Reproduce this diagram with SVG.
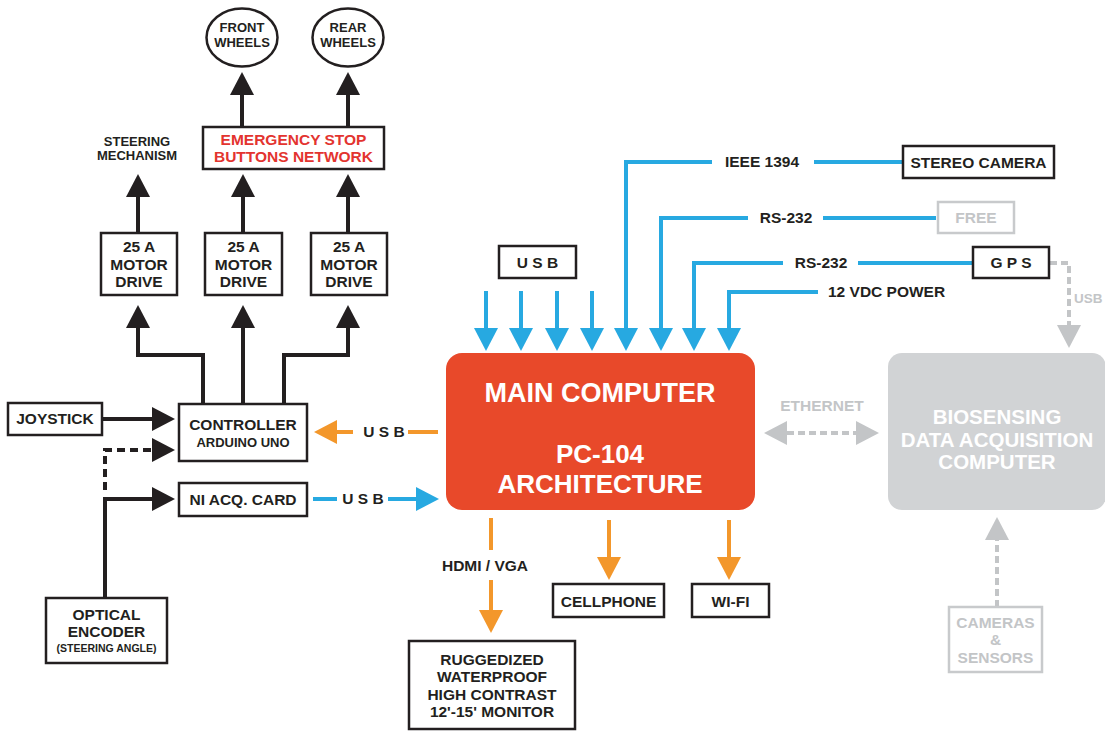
<svg xmlns="http://www.w3.org/2000/svg" width="1105" height="731" viewBox="0 0 1105 731">
<style>
text{font-family:"Liberation Sans",Arial,Helvetica,sans-serif;font-weight:bold;text-anchor:middle;fill:#231f20;font-size:15.5px}
.box{fill:#fff;stroke:#231f20;stroke-width:2.5}
.gbox{fill:#fff;stroke:#c8cacc;stroke-width:2.5}
.gt{fill:#c3c5c7}
.wt{fill:#fff}
.red{fill:#e3342f}
.sm{font-size:13px}
.xs{font-size:10.5px}
.c{fill:none;stroke-width:4}
.k{stroke:#231f20;marker-end:url(#ak)}
.b{stroke:#27a9e1;marker-end:url(#ab)}
.o{stroke:#f3972b;marker-end:url(#ao)}
.g{stroke:#c3c5c7;marker-end:url(#ag);stroke-dasharray:7 4}
</style>
<defs>
<marker id="ak" markerUnits="userSpaceOnUse" viewBox="0 -12 23 24" markerWidth="23" markerHeight="24" refX="0" refY="0" orient="auto"><path d="M0,-12L23,0L0,12z" fill="#231f20"/></marker>
<marker id="ab" markerUnits="userSpaceOnUse" viewBox="0 -12 23 24" markerWidth="23" markerHeight="24" refX="0" refY="0" orient="auto"><path d="M0,-12L23,0L0,12z" fill="#27a9e1"/></marker>
<marker id="ao" markerUnits="userSpaceOnUse" viewBox="0 -12 23 24" markerWidth="23" markerHeight="24" refX="0" refY="0" orient="auto"><path d="M0,-12L23,0L0,12z" fill="#f3972b"/></marker>
<marker id="ag" markerUnits="userSpaceOnUse" viewBox="0 -12 23 24" markerWidth="23" markerHeight="24" refX="0" refY="0" orient="auto-start-reverse"><path d="M0,-12L23,0L0,12z" fill="#c3c5c7"/></marker>
</defs>

<g id="connectors">
<path class="c k" d="M242,127V95"/>
<path class="c k" d="M348,127V95"/>
<path class="c k" d="M138,233V197"/>
<path class="c k" d="M243,233V197"/>
<path class="c k" d="M348,233V197"/>
<path class="c k" d="M203,404V355H138V328"/>
<path class="c k" d="M243,404V328"/>
<path class="c k" d="M284,404V355H348V328"/>
<path class="c k" d="M102,419H152"/>
<path class="c k" d="M105,490V450H152" stroke-dasharray="8 5"/>
<path class="c k" d="M105,598V499H152"/>
<path class="c b" d="M486,291V328"/>
<path class="c b" d="M521,291V328"/>
<path class="c b" d="M557,291V328"/>
<path class="c b" d="M592,291V328"/>
<path class="c b" d="M903,162H814M712,162H626V328"/>
<path class="c b" d="M936,218H823M748,218H661V328"/>
<path class="c b" d="M972,263H858M783,263H694V328"/>
<path class="c b" d="M818,292H729V328"/>
<path class="c b" d="M313,499H337M388,499H416"/>
<path class="c o" d="M438,432H408M353,432H337"/>
<path class="c o" d="M491,518V550M491,580V610"/>
<path class="c o" d="M609,520V557"/>
<path class="c o" d="M729,520V557"/>
<path class="c g" d="M1050,263H1069V325"/>
<path class="c g" d="M787,433H856" style="marker-start:url(#ag)"/>
<path class="c g" d="M997,607V540"/>
<text x="762" y="167">IEEE 1394</text>
<text x="786" y="223">RS-232</text>
<text x="821" y="268">RS-232</text>
<text x="828" y="297" style="text-anchor:start">12 VDC POWER</text>
<text x="384" y="437">U S B</text>
<text x="363" y="504">U S B</text>
<text x="485" y="571">HDMI / VGA</text>
<text x="822" y="411" class="gt">ETHERNET</text>
<text x="1074" y="303" class="gt" style="text-anchor:start;font-size:13.5px">USB</text>
</g>

<g id="front-wheels"><ellipse cx="242" cy="37.5" rx="35.5" ry="29" class="box"/><text x="242" y="32" class="sm">FRONT</text><text x="242" y="47" class="sm">WHEELS</text></g>
<g id="rear-wheels"><ellipse cx="348" cy="37.5" rx="35.5" ry="29" class="box"/><text x="348" y="32" class="sm">REAR</text><text x="348" y="47" class="sm">WHEELS</text></g>
<g id="emergency-stop"><rect x="203" y="127" width="181" height="42" class="box"/><text x="293.5" y="145" class="red">EMERGENCY STOP</text><text x="293.5" y="162" class="red">BUTTONS NETWORK</text></g>
<g id="steering"><text x="137" y="146" class="sm">STEERING</text><text x="137" y="160" class="sm">MECHANISM</text></g>
<g id="motor1"><rect x="101" y="233" width="76" height="62" class="box"/><text x="139" y="252">25 A</text><text x="139" y="270">MOTOR</text><text x="139" y="287">DRIVE</text></g>
<g id="motor2"><rect x="205" y="233" width="77" height="62" class="box"/><text x="243.5" y="252">25 A</text><text x="243.5" y="270">MOTOR</text><text x="243.5" y="287">DRIVE</text></g>
<g id="motor3"><rect x="311" y="233" width="76" height="62" class="box"/><text x="349" y="252">25 A</text><text x="349" y="270">MOTOR</text><text x="349" y="287">DRIVE</text></g>
<g id="joystick"><rect x="8" y="403" width="94" height="32" class="box"/><text x="55" y="424">JOYSTICK</text></g>
<g id="controller"><rect x="179" y="404" width="128" height="57" class="box"/><text x="243" y="430">CONTROLLER</text><text x="243" y="447" class="sm">ARDUINO UNO</text></g>
<g id="ni-card"><rect x="179" y="483" width="128" height="33" class="box"/><text x="243" y="505">NI ACQ. CARD</text></g>
<g id="optical-encoder"><rect x="46" y="598" width="121" height="65" class="box"/><text x="106.5" y="620">OPTICAL</text><text x="106.5" y="637">ENCODER</text><text x="106.5" y="652" class="xs">(STEERING ANGLE)</text></g>
<g id="usb"><rect x="499" y="246" width="77" height="32" class="box"/><text x="537.5" y="268">U S B</text></g>
<g id="stereo-camera"><rect x="903" y="146" width="151" height="32" class="box"/><text x="978.5" y="168">STEREO CAMERA</text></g>
<g id="free"><rect x="938" y="202" width="76" height="31" class="gbox"/><text x="976" y="223" class="gt">FREE</text></g>
<g id="gps"><rect x="973" y="247" width="76" height="31" class="box"/><text x="1011" y="268">G P S</text></g>
<g id="main-computer"><rect x="446" y="353" width="309" height="157" rx="16" fill="#e8492a"/><text x="600" y="402" class="wt" style="font-size:27px">MAIN COMPUTER</text><text x="600" y="463" class="wt" style="font-size:26px">PC-104</text><text x="600" y="493" class="wt" style="font-size:26px">ARCHITECTURE</text></g>
<g id="biosensing"><rect x="888" y="353" width="218" height="157" rx="14" fill="#d1d3d5"/><text x="997" y="424" class="wt" style="font-size:20.5px">BIOSENSING</text><text x="997" y="447" class="wt" style="font-size:20.5px">DATA ACQUISITION</text><text x="997" y="469" class="wt" style="font-size:20.5px">COMPUTER</text></g>
<g id="cameras-sensors"><rect x="949" y="607" width="93" height="65" class="gbox"/><text x="995.5" y="628" class="gt">CAMERAS</text><text x="995.5" y="645" class="gt">&amp;</text><text x="995.5" y="663" class="gt">SENSORS</text></g>
<g id="cellphone"><rect x="553" y="584" width="111" height="33" class="box"/><text x="608.5" y="607">CELLPHONE</text></g>
<g id="wifi"><rect x="692" y="584" width="77" height="33" class="box"/><text x="730.5" y="607">WI-FI</text></g>
<g id="monitor"><rect x="409" y="641" width="166" height="88" class="box"/><text x="492" y="665">RUGGEDIZED</text><text x="492" y="682">WATERPROOF</text><text x="492" y="700">HIGH CONTRAST</text><text x="492" y="717">12'-15' MONITOR</text></g>
</svg>
